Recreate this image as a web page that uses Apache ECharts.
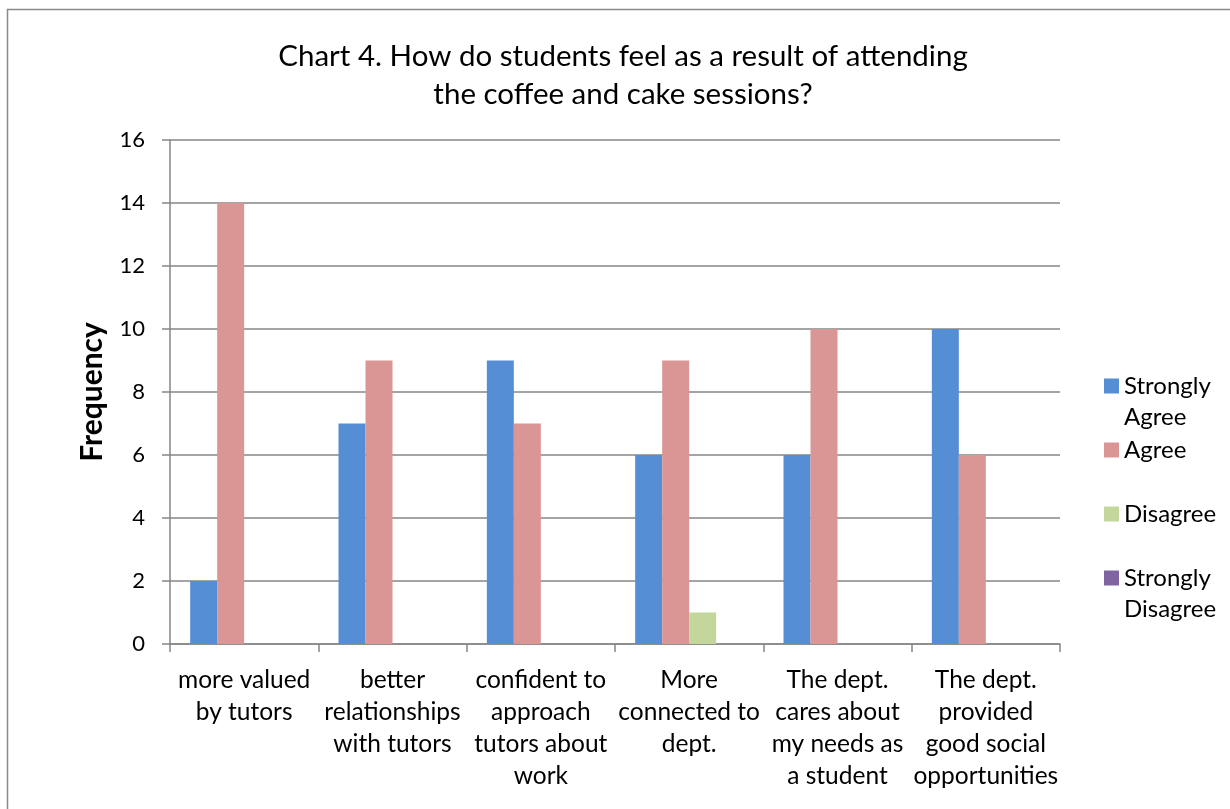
<!DOCTYPE html>
<html>
<head>
<meta charset="utf-8">
<script src="https://cdn.jsdelivr.net/npm/echarts@6/dist/echarts.min.js"></script>
<style>
html,body{margin:0;padding:0;background:#fff;}
#chart{width:1230px;height:809px;}
</style>
</head>
<body>
<div id="chart"></div>
<script>
const categories = [
  "more valued\nby tutors",
  "better\nrelationships\nwith tutors",
  "confident to\napproach\ntutors about\nwork",
  "More\nconnected to\ndept.",
  "The dept.\ncares about\nmy needs as\na student",
  "The dept.\nprovided\ngood social\nopportunities"
];
const seriesNames = ["Strongly Agree", "Agree", "Disagree", "Strongly Disagree"];
const stronglyAgree = [2, 7, 9, 6, 6, 10];
const agree = [14, 9, 7, 9, 10, 6];
const disagree = [0, 0, 0, 1, 0, 0];
const stronglyDisagree = [0, 0, 0, 0, 0, 0];
const yTicks = [0, 2, 4, 6, 8, 10, 12, 14, 16];

const colors = ["#558ED5", "#D99694", "#C3D69B", "#8064A2"];
const legendLabels = {
  "Strongly Agree": "\nStrongly\nAgree",
  "Agree": "Agree",
  "Disagree": "Disagree",
  "Strongly Disagree": "\nStrongly\nDisagree"
};
const legendTops = [339.5, 434.5, 498.5, 531.5];
const FONT = "Lato, 'Open Sans', sans-serif";

const chart = echarts.init(document.getElementById('chart'), null, {renderer: 'canvas'});
const values = [stronglyAgree, agree, disagree, stronglyDisagree];

const option = {
  animation: false,
  color: colors,
  textStyle: {fontFamily: FONT},
  title: {
    text: "Chart 4. How do students feel as a result of attending\nthe coffee and cake sessions?",
    left: 618,
    top: 32,
    textAlign: 'center',
    textStyle: {fontFamily: FONT, fontSize: 29.5, fontWeight: 'normal', color: '#000', lineHeight: 38}
  },
  legend: seriesNames.map((n, i) => ({
    data: [n],
    orient: 'vertical',
    left: 1104,
    top: legendTops[i],
    padding: 0,
    itemWidth: 15,
    itemHeight: 15,
    itemGap: 0,
    icon: 'rect',
    selectedMode: false,
    formatter: name => legendLabels[name],
    textStyle: {fontFamily: FONT, fontSize: 24, color: '#000', lineHeight: 31}
  })),
  grid: {left: 170, right: 170, top: 140, bottom: 165, containLabel: false},
  xAxis: {
    type: 'category',
    data: categories,
    axisLine: {lineStyle: {color: '#868686', width: 1.5}},
    axisTick: {show: true, alignWithLabel: false, length: 8, lineStyle: {color: '#868686', width: 1.5}},
    axisLabel: {interval: 0, margin: 20, fontFamily: FONT, fontSize: 24.5, color: '#000', lineHeight: 32, align: 'center'},
    splitLine: {show: false}
  },
  yAxis: {
    type: 'value',
    min: yTicks[0],
    max: yTicks[yTicks.length - 1],
    interval: 2,
    name: 'Frequency',
    nameLocation: 'middle',
    nameGap: 63,
    nameRotate: 90,
    nameTextStyle: {fontFamily: FONT, fontSize: 30, fontWeight: 'bold', color: '#000'},
    axisLine: {show: true, lineStyle: {color: '#868686', width: 1.5}},
    axisTick: {show: true, length: 8, lineStyle: {color: '#868686', width: 1.5}},
    axisLabel: {margin: 25, fontFamily: FONT, fontSize: 22, color: '#000'},
    splitLine: {show: true, lineStyle: {color: '#868686', width: 1.5}}
  },
  graphic: [{
    type: 'rect',
    silent: true,
    shape: {x: 7.5, y: 9.5, width: 1300, height: 900},
    style: {fill: 'none', stroke: '#8a8a8a', lineWidth: 1.5},
    z: -1
  }],
  series: seriesNames.map((n, i) => ({
    name: n,
    type: 'bar',
    data: values[i],
    barGap: '0%',
    barCategoryGap: '27.2%',
    itemStyle: {color: colors[i]}
  }))
};
chart.setOption(option);
</script>
</body>
</html>
